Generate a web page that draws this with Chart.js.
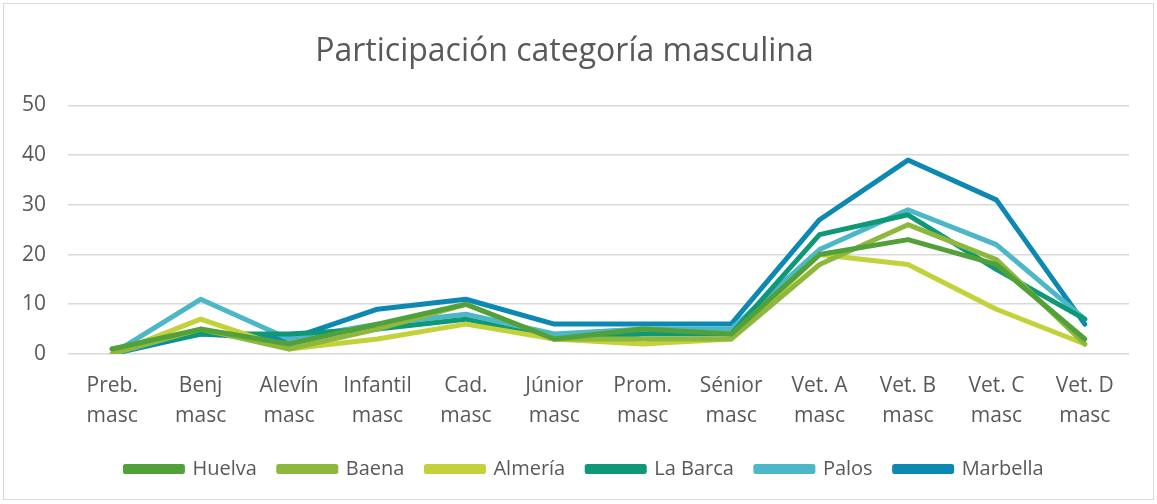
<!DOCTYPE html>
<html>
<head>
<meta charset="utf-8">
<script src="https://cdn.jsdelivr.net/npm/chart.js@4.4.0/dist/chart.umd.min.js"></script>
<style>
  html, body { margin: 0; padding: 0; background: #fff; }
  #wrap { width: 1157px; height: 504px; position: relative; }
</style>
</head>
<body>
<div id="wrap"><canvas id="chart"></canvas></div>
<script>
const categories = [
  ['Preb.', 'masc'], ['Benj', 'masc'], ['Alevín', 'masc'], ['Infantil', 'masc'],
  ['Cad.', 'masc'], ['Júnior', 'masc'], ['Prom.', 'masc'], ['Sénior', 'masc'],
  ['Vet. A', 'masc'], ['Vet. B', 'masc'], ['Vet. C', 'masc'], ['Vet. D', 'masc']
];
const huelva   = [1, 5, 2, 6, 10, 3, 5, 4, 20, 23, 18, 3];
const baena    = [0, 5, 1, 5, 10, 3, 3, 3, 18, 26, 19, 2];
const almeria  = [0, 7, 1, 3, 6, 3, 2, 3, 20, 18, 9, 2];
const laBarca  = [1, 4, 4, 5, 7, 3, 4, 4, 24, 28, 17, 7];
const palos    = [0, 11, 3, 6, 8, 4, 5, 5, 21, 29, 22, 7];
const marbella = [0, 4, 3, 9, 11, 6, 6, 6, 27, 39, 31, 6];
const yTicks = [0, 10, 20, 30, 40, 50];

const FONT = 'Open Sans';
const TXT = '#595959';

function series(label, data, color) {
  return {
    label, data,
    borderColor: color, backgroundColor: color,
    borderWidth: 5, pointRadius: 0, tension: 0,
    borderCapStyle: 'round', borderJoinStyle: 'round'
  };
}

// outer frame + nudge the legend a bit right, like the original
const frame = {
  id: 'frame',
  afterLayout(chart) {
    if (chart.legend) { chart.legend.left += 20; chart.legend.right += 20; }
  },
  beforeDraw(chart) {
    const c = chart.ctx;
    c.save();
    c.strokeStyle = '#d9d9d9';
    c.lineWidth = 1;
    c.strokeRect(3.5, 3.5, 1150, 496);
    c.restore();
  }
};

new Chart(document.getElementById('chart'), {
  type: 'line',
  data: {
    labels: categories,
    datasets: [
      series('Huelva', huelva, '#52a03a'),
      series('Baena', baena, '#8db83d'),
      series('Almería', almeria, '#c3d13b'),
      series('La Barca', laBarca, '#0e9877'),
      series('Palos', palos, '#4cb7c7'),
      series('Marbella', marbella, '#0d88b3')
    ]
  },
  options: {
    responsive: true,
    maintainAspectRatio: false,
    animation: false,
    layout: { padding: { left: 0, right: 28, top: 0, bottom: 15 } },
    scales: {
      x: {
        offset: true,
        afterFit(scale) { scale.height -= 11; },
        grid: { display: false, drawTicks: false },
        border: { display: false },
        ticks: { color: TXT, font: { family: FONT, size: 21, lineHeight: 1.43 }, padding: 17, maxRotation: 0, autoSkip: false }
      },
      y: {
        min: 0, max: 50,
        afterFit(scale) { scale.width = 68; },
        afterBuildTicks(scale) { scale.ticks = yTicks.map(v => ({ value: v })); },
        grid: { color: '#d9d9d9', lineWidth: 1.5, drawTicks: false },
        border: { display: false },
        ticks: { color: TXT, font: { family: FONT, size: 21 }, padding: 22 }
      }
    },
    plugins: {
      title: {
        display: true,
        text: 'Participación categoría masculina',
        color: TXT,
        font: { family: FONT, size: 32, weight: 'normal' },
        padding: { top: 33, bottom: 34 }
      },
      legend: {
        position: 'bottom',
        labels: {
          color: TXT,
          font: { family: FONT, size: 20 },
          boxWidth: 57, boxHeight: 5,
          padding: 22
        }
      },
      tooltip: { enabled: false }
    }
  },
  plugins: [frame]
});
</script>
</body>
</html>
